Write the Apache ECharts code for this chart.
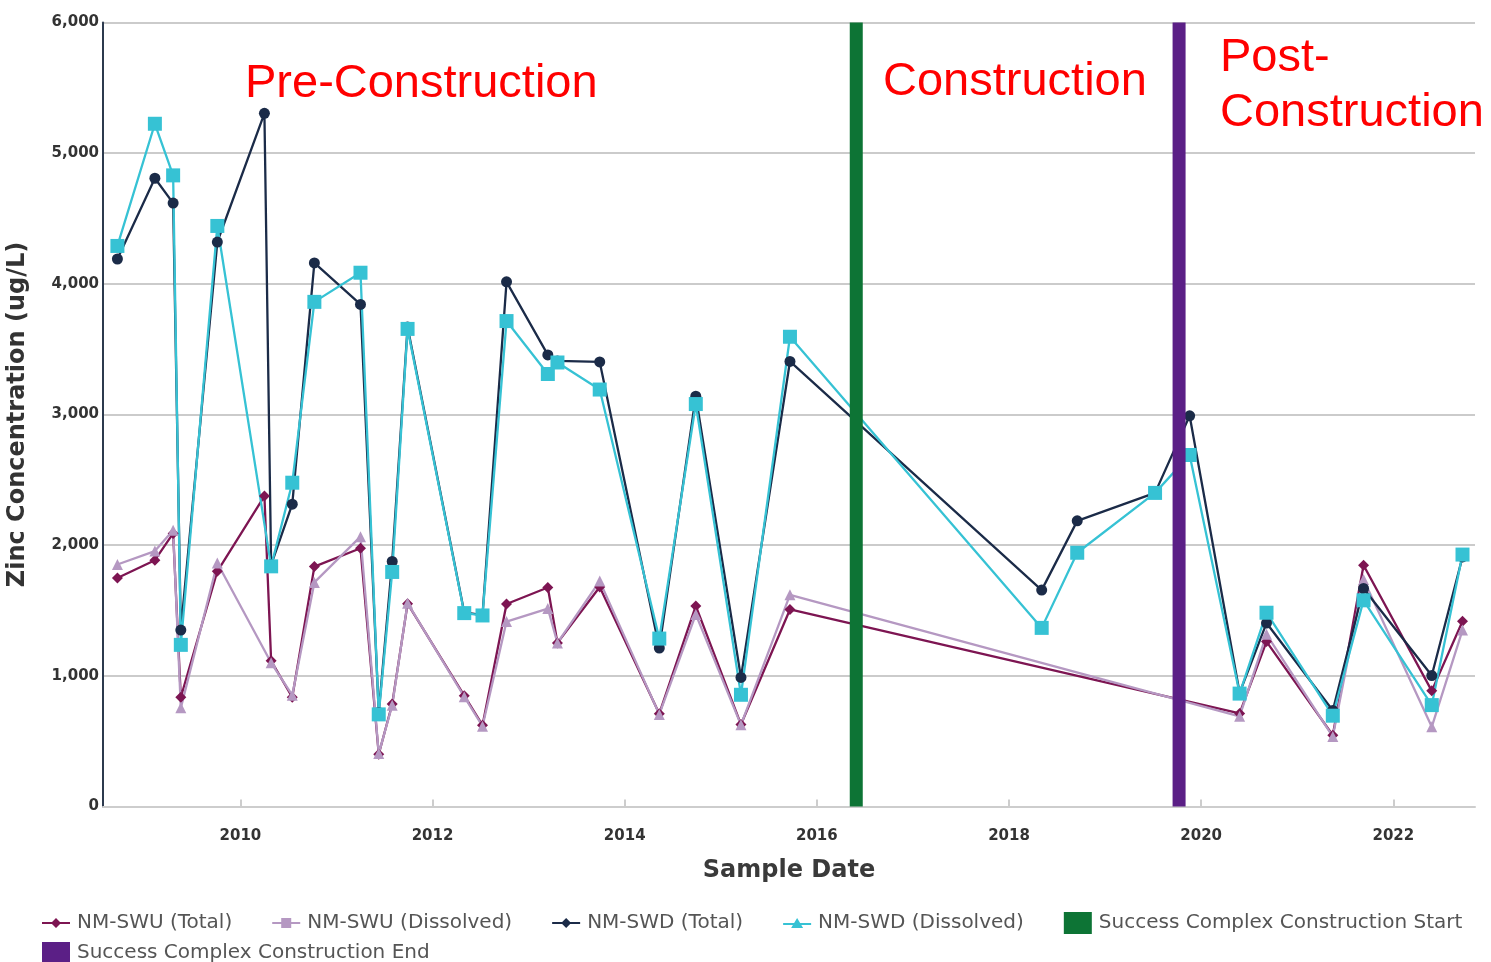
<!DOCTYPE html>
<html>
<head>
<meta charset="utf-8">
<script src="https://cdn.jsdelivr.net/npm/echarts@6/dist/echarts.min.js"></script>
<style>
  html, body { margin: 0; padding: 0; background: #fff; }
  #chart { width: 1491px; height: 962px; }
</style>
</head>
<body>
<div id="chart"></div>
<script>
// sample dates as decimal years
const sampleDates = [
  2008.72, 2009.11, 2009.30, 2009.38, 2009.76, 2010.25, 2010.32, 2010.54, 2010.77, 2011.25,
  2011.44, 2011.58, 2011.74, 2012.33, 2012.52, 2012.77, 2013.20, 2013.30, 2013.74, 2014.36,
  2014.74, 2015.21, 2015.72, 2018.34, 2018.71, 2019.52, 2019.88, 2020.40, 2020.68, 2021.37,
  2021.69, 2022.40, 2022.72
];
const swuTotal = [
  1749, 1885, 2090, 836, 1800, 2376, 1115, 836, 1836, 1976,
  400, 785, 1552, 848, 622, 1550, 1676, 1252, 1680, 710,
  1535, 628, 1508, null, null, null, null, 712, 1262, 545,
  1846, 885, 1418
];
const swuDissolved = [
  1852, 1955, 2115, 755, 1864, null, 1100, 852, 1715, 2065,
  405, 775, 1556, 840, 615, 1415, 1515, 1252, 1725, 705,
  1470, 625, 1620, null, null, null, null, 690, 1318, 535,
  1738, 610, 1350
];
const swdTotal = [
  4190, 4808, 4618, 1350, 4320, 5305, 1850, 2314, 4160, 3842,
  720, 1875, 3670, 1485, 1465, 4015, 3456, 3410, 3402, 1213,
  3140, 988, 3406, 1656, 2186, 2400, 2990, 870, 1404, 735,
  1669, 1002, 1910
];
const swdDissolved = [
  4290, 5225, 4830, 1237, 4443, null, 1838, 2478, 3862, 4085,
  705, 1795, 3655, 1480, 1462, 3715, 3310, 3398, 3191, 1285,
  3080, 855, 3595, 1367, 1942, 2400, 2690, 864, 1483, 695,
  1578, 776, 1928
];
const constructionStart = [2016.41];
const constructionEnd = [2019.77];
const yearTicks = [2010, 2012, 2014, 2016, 2018, 2020, 2022];
const phaseLabels = ["Pre-Construction", "Construction", "Post-\nConstruction"];

const names = [
  "NM-SWU (Total)", "NM-SWU (Dissolved)", "NM-SWD (Total)", "NM-SWD (Dissolved)",
  "Success Complex Construction Start", "Success Complex Construction End"
];

// legend icons are a short line with a marker on it
const iconDiamond = "path://M0,4 L28,4 L28,6 L0,6 Z M14,0 L19,5 L14,10 L9,5 Z";
const iconSquare = "path://M0,4 L28,4 L28,6 L0,6 Z M9,0 L19,0 L19,10 L9,10 Z";
const iconTriangle = "path://M0,5 L28,5 L28,7 L0,7 Z M14,0 L20,10 L8,10 Z";

function pairs(values) {
  return sampleDates.map((d, i) => [d, values[i]]);
}

function lineSeries(name, values, color, symbol, size) {
  return {
    name: name,
    type: "line",
    data: pairs(values),
    connectNulls: true,
    symbol: symbol,
    symbolSize: size,
    showAllSymbol: true,
    lineStyle: { color: color, width: 2.3 },
    itemStyle: { color: color },
    z: 3
  };
}

function markerBar(name, year, color) {
  return {
    name: name,
    type: "bar",
    data: year.map(y => [y, 6000]),
    barWidth: 13,
    barGap: "-100%",
    itemStyle: { color: color },
    z: 5
  };
}

const chart = echarts.init(document.getElementById("chart"));

const axisFont = "DejaVu Sans";
const legendText = { fontFamily: "DejaVu Sans", fontSize: 20, color: "#555", padding: [0, 0, 0, 2] };

chart.setOption({
  animation: false,
  backgroundColor: "#fff",
  grid: { left: 103, right: 16, top: 22.5, bottom: 155.5, outerBoundsMode: "none" },
  xAxis: {
    type: "value",
    min: 2008.57,
    max: 2022.85,
    name: "Sample Date",
    nameLocation: "middle",
    nameGap: 52,
    nameTextStyle: { fontFamily: axisFont, fontSize: 24, fontWeight: "bold", color: "#3a3a3a" },
    axisLine: { show: true, lineStyle: { color: "#cdcdcd", width: 2 } },
    axisTick: { show: true, inside: true, length: 7, customValues: yearTicks, lineStyle: { color: "#cdcdcd", width: 2 } },
    axisLabel: {
      customValues: yearTicks,
      formatter: v => String(v),
      fontFamily: axisFont, fontSize: 15, fontWeight: "bold", color: "#333", margin: 22
    },
    splitLine: { show: false }
  },
  yAxis: {
    type: "value",
    min: 0,
    max: 6000,
    interval: 1000,
    name: "Zinc Concentration (ug/L)",
    nameLocation: "middle",
    nameGap: 73,
    nameTextStyle: { fontFamily: axisFont, fontSize: 24, fontWeight: "bold", color: "#333" },
    axisLine: { show: true, lineStyle: { color: "#2c3a4e", width: 2 } },
    axisTick: { show: false },
    axisLabel: { fontFamily: axisFont, fontSize: 15, fontWeight: "bold", color: "#333", margin: 4, padding: [0, 0, 10, 0] },
    splitLine: { lineStyle: { color: "#cbcbcb", width: 2 } }
  },
  legend: [
    {
      left: 37,
      top: 907,
      itemGap: 40,
      itemWidth: 28,
      itemHeight: 22,
      textStyle: legendText,
      data: [
        { name: names[0], icon: iconDiamond },
        { name: names[1], icon: iconSquare },
        { name: names[2], icon: iconDiamond },
        { name: names[3], icon: iconTriangle },
        { name: names[4], icon: "rect" }
      ]
    },
    {
      left: 37,
      top: 937,
      itemWidth: 28,
      itemHeight: 22,
      textStyle: legendText,
      data: [{ name: names[5], icon: "rect" }]
    }
  ],
  graphic: [
    { type: "text", left: 245, top: 61, style: { text: phaseLabels[0], fill: "#ff0000", font: "47px 'Liberation Sans'" } },
    { type: "text", left: 883, top: 59, style: { text: phaseLabels[1], fill: "#ff0000", font: "47px 'Liberation Sans'" } },
    { type: "text", left: 1220, top: 31, style: { text: phaseLabels[2], fill: "#ff0000", font: "47px 'Liberation Sans'", lineHeight: 55 } }
  ],
  series: [
    lineSeries(names[0], swuTotal, "#7d1552", "diamond", 11),
    lineSeries(names[1], swuDissolved, "#b598c2", "triangle", 11),
    lineSeries(names[2], swdTotal, "#1b2b48", "circle", 11),
    lineSeries(names[3], swdDissolved, "#36c2d4", "rect", 14),
    markerBar(names[4], constructionStart, "#0d7435"),
    markerBar(names[5], constructionEnd, "#5b1f86")
  ]
});
</script>
</body>
</html>
